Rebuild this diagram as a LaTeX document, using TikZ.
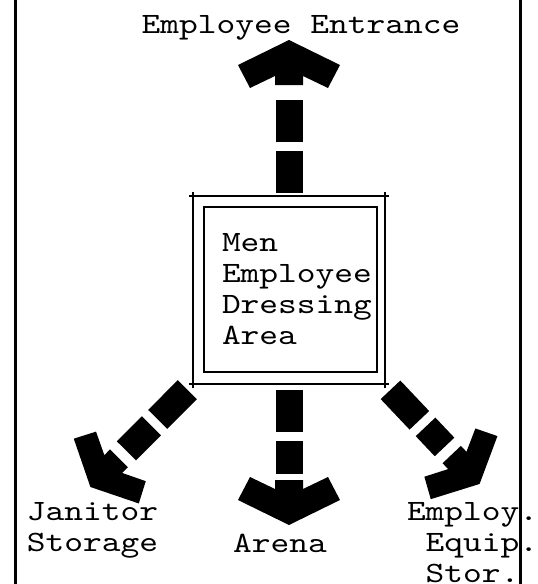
\documentclass[tikz,border=0pt]{standalone}
\usepackage{fontspec}
\setmonofont{lmmono10-regular.otf}[FakeStretch=1.21]
\usepackage{tikz}
\usetikzlibrary{decorations.markings, positioning}

\begin{document}
\begin{tikzpicture}[x=1pt, y=-1pt,
   border/.style={line width=3pt},
   wall/.style={line width=2pt},
   tick/.style={shorten <=-4pt, shorten >=-4pt},
   lbl/.style={font=\fontsize{29.5}{31}\selectfont\ttfamily, inner sep=0pt, outer sep=0pt, align=left},
   flow/.style={line width=27pt, dash pattern=on 42pt off 9pt, shorten >=51pt,
                postaction={decorate},
                decoration={markings, mark=at position 1 with {\fill[scale=#1] (0pt,0pt) -- (-25pt,51pt) -- (-48pt,39pt)
                  -- (-36pt,14pt) -- (-45pt,14pt) -- (-45pt,-14pt) -- (-36pt,-14pt)
                  -- (-48pt,-39pt) -- (-25pt,-51pt) -- cycle;}}},
   flow/.default=1,
   node distance=118pt and 22pt]

 \useasboundingbox (0,0) rectangle (538,584);

 % frame of the sheet
 \draw[border] (15,0) -- (15,584);
 \draw[border] (520,0) -- (520,584);

 % dressing room
 \node[minimum width=192pt, minimum height=188pt, inner sep=0pt, outer sep=0pt] (room) at (289,290) {};
 \foreach \a/\b in {north west/north east, north east/south east, south east/south west, south west/north west}
   \draw[wall, tick] (room.\a) -- (room.\b);
 \draw[wall] ([shift={(11,11)}]room.north west) rectangle ([shift={(-8,-12)}]room.south east);
 \node[lbl, anchor=north west] (rtext) at ([shift={(29,37)}]room.north west) {Men\\Employee\\Dressing\\Area};

 \node[lbl, above=156pt of room, xshift=12pt] (entr) {Employee Entrance};
 \node[lbl, below=150pt of room, xshift=-9pt] (arena) {Arena};
 \node[lbl, below left=118pt and 35pt of room] (janitor) {Janitor\\Storage};
 \node[lbl, below right=of room] (employ) {Employ.\\\hphantom{E}Equip.\\\hphantom{E}Stor.};

 \draw[flow, shorten <=3pt] (room.north) -- (room.north |- entr.south);
 \draw[flow, shorten <=6pt] (room.south) -- ([yshift=9pt]room.south |- arena.north);
 \draw[flow=0.9, shorten <=8pt] (room.south west) -- ([shift={(-2pt,15pt)}]janitor.north);
 \draw[flow=0.9, shorten <=8pt] (room.south east) -- ([shift={(7pt,18pt)}]employ.north);
\end{tikzpicture}
\end{document}
